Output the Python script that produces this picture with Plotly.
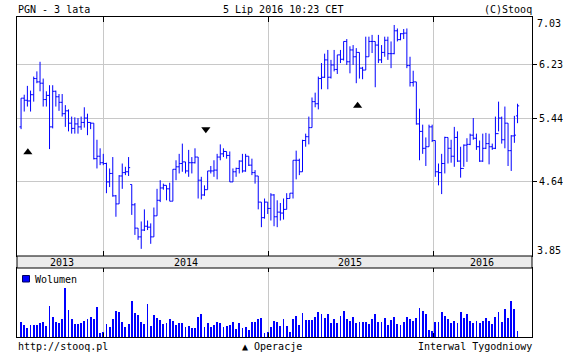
import math
import pandas as pd
import plotly.graph_objects as go

# ---------------- data (weekly bars, PGN, 3 years) ----------------
week_dates = pd.date_range("2013-07-03", periods=158, freq="7D")

open_ = [5.33, 5.73, 5.70, 5.69, 5.78, 6.02, 5.97, 5.95, 5.71, 5.77,
         5.33, 5.83, 5.75, 5.67, 5.51, 5.55, 5.38, 5.31, 5.37, 5.33,
         5.39, 5.45, 5.39, 5.38, 4.92, 4.95, 4.87, 4.86, 4.64, 4.74,
         4.48, 4.39, 4.71, 4.75, 4.76, 4.61, 4.38, 4.13, 4.04, 4.11,
         4.15, 4.14, 4.04, 4.26, 4.43, 4.57, 4.60, 4.56, 4.42, 4.79,
         4.82, 4.86, 4.88, 4.77, 4.87, 4.87, 4.94, 4.66, 4.49, 4.55,
         4.77, 4.77, 4.78, 4.94, 4.98, 5.01, 4.96, 4.64, 4.76, 4.80,
         4.89, 4.77, 4.95, 4.84, 4.75, 4.71, 4.41, 4.24, 4.41, 4.34,
         4.49, 4.25, 4.30, 4.29, 4.33, 4.45, 4.51, 4.90, 4.90, 4.76,
         5.15, 5.20, 5.32, 5.68, 5.65, 6.02, 6.04, 6.31, 6.04, 6.23,
         6.16, 6.39, 6.32, 6.61, 6.28, 6.47, 6.36, 6.43, 6.18, 6.15,
         6.36, 6.61, 6.61, 6.55, 6.31, 6.43, 6.63, 6.41, 6.41, 6.79,
         6.64, 6.74, 6.75, 6.22, 5.96, 5.97, 5.37, 5.27, 5.05, 5.07,
         5.33, 5.15, 4.76, 4.75, 4.86, 5.19, 5.05, 4.95, 5.19, 4.89,
         4.80, 5.09, 5.10, 5.22, 5.18, 5.07, 4.89, 5.05, 5.11, 5.07,
         5.05, 5.24, 5.45, 5.16, 5.38, 5.02, 5.21, 5.48]

high = [5.73, 5.78, 5.91, 5.84, 6.05, 6.13, 6.28, 6.02, 5.83, 5.92,
        5.92, 5.84, 5.79, 5.79, 5.63, 5.57, 5.47, 5.46, 5.45, 5.47,
        5.60, 5.51, 5.39, 5.38, 5.16, 5.05, 4.98, 4.87, 4.80, 4.94,
        4.49, 4.72, 4.86, 4.82, 4.94, 4.61, 4.40, 4.13, 4.20, 4.33,
        4.21, 4.18, 4.35, 4.56, 4.66, 4.62, 4.60, 4.63, 4.79, 4.90,
        4.98, 5.11, 4.88, 5.03, 4.94, 5.05, 4.94, 4.70, 4.60, 4.77,
        4.83, 4.90, 4.98, 5.10, 5.05, 5.01, 5.01, 4.80, 4.81, 4.90,
        4.98, 4.98, 4.95, 4.92, 4.78, 4.71, 4.41, 4.45, 4.41, 4.51,
        4.50, 4.43, 4.40, 4.45, 4.51, 4.51, 4.90, 5.02, 4.92, 5.16,
        5.24, 5.47, 5.74, 5.81, 6.05, 6.26, 6.41, 6.47, 6.31, 6.47,
        6.39, 6.47, 6.61, 6.65, 6.53, 6.55, 6.50, 6.43, 6.20, 6.69,
        6.69, 6.72, 6.61, 6.72, 6.55, 6.69, 6.69, 6.61, 6.89, 6.83,
        6.75, 6.82, 6.83, 6.36, 6.14, 5.97, 5.58, 5.36, 5.19, 5.36,
        5.36, 5.15, 4.86, 4.98, 5.20, 5.19, 5.16, 5.33, 5.27, 5.07,
        5.10, 5.18, 5.24, 5.45, 5.24, 5.15, 5.24, 5.25, 5.24, 5.11,
        5.47, 5.68, 5.47, 5.61, 5.38, 5.22, 5.48, 5.65]

low = [5.30, 5.54, 5.61, 5.54, 5.68, 5.95, 5.83, 5.61, 5.61, 5.04,
       5.31, 5.61, 5.55, 5.47, 5.33, 5.27, 5.24, 5.24, 5.24, 5.29,
       5.32, 5.22, 5.30, 4.91, 4.80, 4.84, 4.84, 4.51, 4.58, 4.47,
       4.25, 4.39, 4.56, 4.72, 4.71, 4.27, 4.06, 4.01, 3.92, 4.10,
       4.11, 3.97, 4.04, 4.26, 4.41, 4.55, 4.43, 4.42, 4.42, 4.66,
       4.74, 4.76, 4.74, 4.70, 4.74, 4.86, 4.45, 4.44, 4.48, 4.55,
       4.74, 4.70, 4.67, 4.90, 4.94, 4.92, 4.64, 4.64, 4.70, 4.74,
       4.75, 4.76, 4.83, 4.72, 4.62, 4.33, 4.14, 4.23, 4.28, 4.21,
       4.15, 4.14, 4.21, 4.22, 4.33, 4.45, 4.45, 4.67, 4.72, 4.76,
       5.07, 5.10, 5.32, 5.60, 5.57, 5.86, 6.03, 5.86, 6.02, 6.13,
       6.09, 6.26, 6.30, 6.23, 6.10, 6.23, 5.95, 6.02, 6.01, 6.15,
       6.36, 6.42, 5.89, 6.26, 6.26, 6.36, 6.31, 6.18, 6.40, 6.61,
       6.63, 6.65, 6.18, 5.90, 5.90, 5.36, 4.90, 4.98, 4.83, 5.07,
       5.13, 4.70, 4.60, 4.50, 4.74, 4.86, 4.87, 4.82, 4.88, 4.69,
       4.82, 4.88, 5.09, 5.16, 5.03, 4.88, 4.88, 5.04, 4.85, 5.03,
       5.04, 5.27, 5.11, 5.05, 4.83, 4.77, 5.12, 5.38]

close = [5.73, 5.70, 5.69, 5.78, 6.02, 5.97, 5.95, 5.71, 5.77, 5.33,
         5.83, 5.75, 5.67, 5.51, 5.55, 5.38, 5.31, 5.37, 5.33, 5.39,
         5.45, 5.39, 5.38, 4.92, 4.95, 4.87, 4.86, 4.64, 4.74, 4.48,
         4.39, 4.71, 4.75, 4.76, 4.81, 4.38, 4.13, 4.04, 4.11, 4.15,
         4.14, 4.04, 4.26, 4.43, 4.57, 4.60, 4.56, 4.42, 4.79, 4.82,
         4.86, 4.88, 4.77, 4.87, 4.87, 4.94, 4.66, 4.49, 4.55, 4.77,
         4.77, 4.78, 4.94, 4.98, 5.01, 4.96, 4.64, 4.76, 4.80, 4.89,
         4.77, 4.95, 4.84, 4.75, 4.71, 4.41, 4.24, 4.41, 4.34, 4.49,
         4.25, 4.30, 4.29, 4.33, 4.45, 4.51, 4.90, 4.90, 4.76, 5.15,
         5.20, 5.32, 5.68, 5.65, 6.02, 6.04, 6.31, 6.04, 6.23, 6.16,
         6.39, 6.32, 6.61, 6.28, 6.47, 6.36, 6.43, 6.18, 6.15, 6.36,
         6.61, 6.61, 6.55, 6.31, 6.43, 6.63, 6.41, 6.41, 6.79, 6.64,
         6.74, 6.75, 6.22, 5.96, 5.97, 5.37, 5.27, 5.05, 5.07, 5.33,
         5.15, 4.76, 4.75, 4.86, 5.19, 5.05, 4.95, 5.19, 4.89, 4.80,
         5.09, 5.10, 5.22, 5.18, 5.07, 4.89, 5.05, 5.11, 5.07, 5.05,
         5.24, 5.45, 5.16, 5.38, 5.02, 5.21, 5.22, 5.62]

volume_mln = [6.0, 4.8, 3.6, 4.8, 4.8, 4.8, 5.6, 6.0, 4.4, 12.4,
              8.0, 6.0, 5.6, 7.2, 19.6, 10.8, 7.2, 5.2, 5.2, 5.6,
              6.4, 7.2, 8.0, 7.2, 12.0, 1.6, 2.0, 5.2, 4.0, 7.2,
              10.4, 9.9, 6.0, 4.0, 5.2, 14.4, 9.6, 8.8, 6.0, 5.2,
              13.2, 4.4, 8.8, 7.6, 6.8, 5.2, 5.6, 7.2, 6.4, 4.8,
              5.6, 5.6, 4.0, 4.4,
              3.6, 3.6, 8.0, 9.2, 4.0, 5.6, 4.0, 4.8, 6.0, 5.6,
              4.0, 4.4, 4.8, 6.0, 3.2, 5.6, 3.6, 4.0, 2.8, 6.0,
              6.0, 7.2, 7.6, 1.6, 2.0, 4.0, 6.4, 6.0, 4.4, 7.2,
              4.4, 2.0, 7.2, 8.4, 4.8, 9.6, 6.8, 6.8, 6.8, 8.0,
              10.0, 9.2, 7.6, 9.2, 5.6, 7.2, 5.6, 8.4, 10.4, 7.2,
              6.4, 8.0, 5.6, 6.0, 6.0, 6.0, 5.2, 7.2, 9.2,
              6.0,
              6.0, 7.6, 4.8, 6.8, 8.0, 5.2, 4.8, 6.0, 8.0, 7.2,
              6.4, 7.6, 11.6, 10.4, 9.2, 2.8, 2.4, 6.0, 6.0, 10.0,
              8.4, 7.2, 5.6, 6.4, 5.6, 10.0, 7.6, 9.2, 6.4, 5.6,
              6.4, 5.6, 6.4, 7.6, 6.4, 5.2, 8.0, 10.0, 6.0, 11.2,
              7.6, 14.4, 11.2, 2.4]

# corporate operations markers ("Operacje")
op_dates = ["2013-07-18", "2014-08-16", "2015-07-18"]
op_prices = [5.00, 5.30, 5.62]
op_symbols = ["triangle-up", "triangle-down", "triangle-up"]

price_ticks = [4.64, 5.44, 6.23]
price_min, price_max = 3.85, 7.03
year_lines = ["2014-01-01", "2015-01-01", "2016-01-01"]
year_labels = ["2013", "2014", "2015", "2016"]
year_label_pos = ["2013-10-02", "2014-07-02", "2015-07-02", "2016-04-19"]
x_range = ["2013-06-24", "2016-08-07"]
vol_top = 27.6

# ---------------- styling ----------------
FONT = "DejaVu Sans Mono"
BLUE = "#0000ff"
GRID = "#c8c8c8"
W, H = 563, 356
ML, MR, MT, MB = 17, 31, 17, 19
PH = H - MT - MB  # 320
main_dom = [(337 - 256) / PH, 1.0]
vol_dom = [0.0, (337 - 268) / PH]

fig = go.Figure()

fig.add_trace(go.Ohlc(
    x=week_dates, open=open_, high=high, low=low, close=close,
    increasing=dict(line=dict(color=BLUE, width=1)),
    decreasing=dict(line=dict(color=BLUE, width=1)),
    tickwidth=0.5, xaxis="x", yaxis="y", hoverinfo="skip",
    showlegend=False,
))

fig.add_trace(go.Scatter(
    x=op_dates, y=op_prices, mode="markers",
    marker=dict(symbol=op_symbols, color="black", size=8, line=dict(width=0)),
    xaxis="x", yaxis="y", showlegend=False, hoverinfo="skip",
))

fig.add_trace(go.Bar(
    x=week_dates, y=volume_mln, marker=dict(color=BLUE, line=dict(width=0)),
    width=1.9 * 86400000, xaxis="x2", yaxis="y2", showlegend=False,
    hoverinfo="skip",
))

axis_common = dict(
    showline=True, linecolor="black", linewidth=1, zeroline=False,
    automargin=False,
)

fig.update_layout(
    width=W, height=H, autosize=False,
    margin=dict(l=ML, r=MR, t=MT, b=MB, pad=0, autoexpand=False),
    paper_bgcolor="white", plot_bgcolor="white",
    font=dict(family=FONT, size=10, color="black"),
    showlegend=False,
    bargap=0,
    xaxis=dict(
        domain=[0, 1], anchor="y", type="date", range=x_range,
        rangeslider=dict(visible=False),
        tickvals=year_lines, showticklabels=False,
        ticks="inside", ticklen=5, tickcolor="black", tickwidth=1,
        showgrid=True, gridcolor=GRID, gridwidth=1,
        mirror="ticks", **axis_common,
    ),
    xaxis2=dict(
        domain=[0, 1], anchor="y2", type="date", range=x_range, matches="x",
        tickvals=year_lines, showticklabels=False,
        ticks="inside", ticklen=4, tickcolor="black", tickwidth=1,
        showgrid=True, gridcolor=GRID, gridwidth=1,
        mirror="ticks", **axis_common,
    ),
    yaxis=dict(
        domain=main_dom, anchor="x", type="log", side="right",
        range=[math.log10(price_min), math.log10(price_max)],
        tickvals=price_ticks, ticktext=[f"{v:.2f}" for v in price_ticks],
        ticks="outside", ticklen=4, tickcolor="black", tickwidth=1,
        tickfont=dict(family=FONT, size=10, color="black"),
        showgrid=True, gridcolor=GRID, gridwidth=1,
        mirror=True, **axis_common,
    ),
    yaxis3=dict(
        overlaying="y", anchor="x", side="left", type="log",
        range=[math.log10(price_min), math.log10(price_max)],
        tickvals=price_ticks, showticklabels=False,
        ticks="inside", ticklen=3, tickcolor="black", tickwidth=1,
        showgrid=False, showline=False, zeroline=False, automargin=False,
    ),
    yaxis2=dict(
        domain=vol_dom, anchor="x2", range=[0, vol_top],
        showticklabels=False, ticks="", showgrid=False,
        mirror=True, **axis_common,
    ),
)

# date band between panels
fig.add_shape(type="rect", xref="paper", yref="paper",
              x0=0, x1=1, y0=vol_dom[1], y1=main_dom[0],
              fillcolor="#ebebeb", line=dict(color="black", width=1))


def px_x(x):
    return (x - ML) / (W - ML - MR)


def px_y(y):
    return (H - MB - y) / PH


# volume legend square
fig.add_shape(type="rect", xref="paper", yref="paper",
              x0=px_x(22.5), x1=px_x(29.5), y0=px_y(282), y1=px_y(275.5),
              fillcolor=BLUE, line=dict(color="#000060", width=1))

ann = []
for lab, pos in zip(year_labels, year_label_pos):
    ann.append(dict(x=pos, xref="x", y=px_y(262), yref="paper", text=lab,
                    showarrow=False, xanchor="center", yanchor="middle"))

ann += [
    dict(x=px_x(33), y=px_y(279), xref="paper", yref="paper", text="Wolumen",
         showarrow=False, xanchor="left", yanchor="middle"),
    dict(x=px_x(16), y=px_y(9.5), xref="paper", yref="paper", text="PGN - 3 lata",
         showarrow=False, xanchor="left", yanchor="middle"),
    dict(x=px_x(282.5), y=px_y(9.5), xref="paper", yref="paper",
         text="5 Lip 2016 10:23 CET", showarrow=False, xanchor="center", yanchor="middle"),
    dict(x=px_x(533.5), y=px_y(9.5), xref="paper", yref="paper", text="(C)Stooq",
         showarrow=False, xanchor="right", yanchor="middle"),
    dict(x=px_x(16), y=px_y(346), xref="paper", yref="paper", text="http://stooq.pl",
         showarrow=False, xanchor="left", yanchor="middle"),
    dict(x=px_x(272), y=px_y(346), xref="paper", yref="paper", text="▲ Operacje",
         showarrow=False, xanchor="center", yanchor="middle"),
    dict(x=px_x(533.5), y=px_y(346), xref="paper", yref="paper",
         text="Interwal Tygodniowy", showarrow=False, xanchor="right", yanchor="middle"),
    dict(x=1, xref="paper", y=math.log10(price_max), yref="y", text=f"{price_max:.2f}",
         showarrow=False, xanchor="left", yanchor="middle", xshift=3, yshift=-6),
    dict(x=1, xref="paper", y=math.log10(price_min), yref="y", text=f"{price_min:.2f}",
         showarrow=False, xanchor="left", yanchor="middle", xshift=3, yshift=6),
]
fig.update_layout(annotations=ann)

fig.write_html("out.html", config={"displayModeBar": False, "responsive": False})

# remove the default page margin so the figure sits at the window's top-left corner
with open("out.html", "r", encoding="utf-8") as fh:
    page = fh.read()
page = page.replace("<body>", '<body style="margin:0;padding:0;overflow:hidden">', 1)
with open("out.html", "w", encoding="utf-8") as fh:
    fh.write(page)
